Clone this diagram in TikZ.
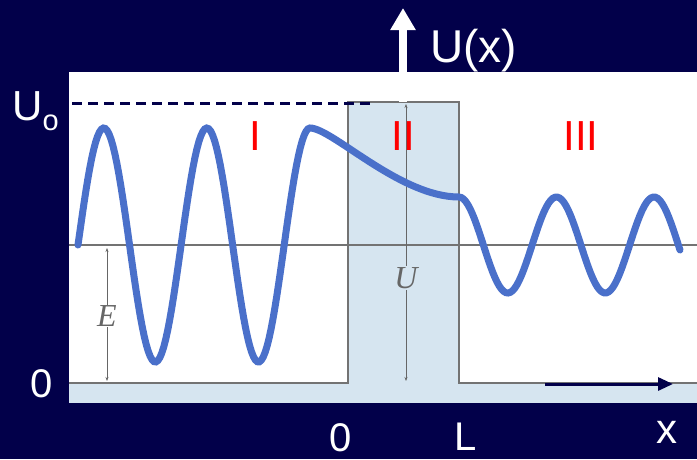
\documentclass[tikz,border=0pt]{standalone}
\usepackage{fontspec}
\setmainfont{Liberation Sans}
\newfontfamily\scanfont{Liberation Serif}
\usetikzlibrary{arrows.meta,positioning,calc}
\definecolor{slidebg}{RGB}{2,0,74}
\definecolor{barrierfill}{RGB}{214,229,240}
\definecolor{wavecol}{RGB}{74,112,202}
\colorlet{scanline}{black!55}
\colorlet{scantext}{black!60}

\begin{document}
\begin{tikzpicture}[x=1pt, y=-1pt,
  slidetxt/.style={text=white, font=\fontsize{42}{42}\selectfont, inner sep=0pt},
  region/.style={text=red, font=\fontsize{42}{42}\selectfont, inner sep=0pt},
  dimlbl/.style={text=scantext, font=\fontsize{32}{32}\selectfont\scanfont\itshape, inner sep=1pt}]
\fill[slidebg] (0,0) rectangle (697,459);
\useasboundingbox (0,0) rectangle (697,459);
% scanned textbook figure
\fill[white] (69,72) rectangle (697,403);
\fill[barrierfill] (69,383) rectangle (697,403);
\fill[barrierfill] (348,102) rectangle (459,383);
\draw[scanline, line width=1.5pt] (69,383) -- (348,383) -- (348,102) -- (459,102) -- (459,383) -- (697,383);
\draw[scanline, line width=1.5pt] (69,245) -- (697,245);
% E and U heights
\coordinate (etop) at (107,248);
\coordinate (ebot) at (107,381);
\draw[scantext, line width=0.6pt, {Stealth[length=4pt]}-{Stealth[length=4pt]}] (etop) -- (ebot);
\node[dimlbl, fill=white] (elbl) at (107,316) {E};
\coordinate (utop) at (406,104);
\coordinate (ubot) at (406,381);
\draw[scantext, line width=0.6pt, {Stealth[length=4pt]}-{Stealth[length=4pt]}] (utop) -- (ubot);
\node[dimlbl, fill=barrierfill] (ulbl) at (406,278) {U};
% wave function
\draw[wavecol, line width=7pt, line cap=round]
  plot[domain=78:310, samples=120] (\x, {245-117*sin(3.4918*(\x-78))})
  .. controls (332,128) and (400,197) .. (459,197)
  -- plot[domain=459:680, samples=100] (\x, {245-48*cos(3.6923*(\x-459))});
% slide overlay
\coordinate (dash0) at (72,103);
\coordinate (dash1) at (370,103);
\draw[slidebg, line width=3pt, dash pattern=on 10pt off 6pt] (dash0) -- (dash1);
\coordinate (uax0) at (403,102);
\coordinate (uax1) at (403,8);
\draw[white, line width=8pt, -{Triangle[length=22pt,width=24pt]}] (uax0) -- (uax1);
\node[slidetxt, anchor=base west, font=\fontsize{46}{46}\selectfont] (ulab) at (430,62) {U(x)};
\node[slidetxt, anchor=base west] (uolab) at (12,120) {U\raisebox{-10pt}{\fontsize{29}{29}\selectfont o}};
\node[slidetxt, anchor=base west, font=\fontsize{40}{40}\selectfont] (zleft) at (30,397) {0};
\node[slidetxt, anchor=base west, font=\fontsize{40}{40}\selectfont] (zbot) at (329,451) {0};
\node[slidetxt, anchor=base west, font=\fontsize{40}{40}\selectfont] (llab) at (454,450) {L};
\node[slidetxt, anchor=base west] (xlab) at (656,443) {x};
\node[region, anchor=base] (r1) at (255,150) {I};
\node[region, anchor=base] (r2) at (403,150) {II};
\node[region, anchor=base] (r3) at (581,150) {III};
\coordinate (xarr0) at (545,384);
\coordinate (xarr1) at (673,384);
\draw[slidebg, line width=3pt, -{Triangle[length=15pt,width=13pt]}] (xarr0) -- (xarr1);
\end{tikzpicture}
\end{document}
